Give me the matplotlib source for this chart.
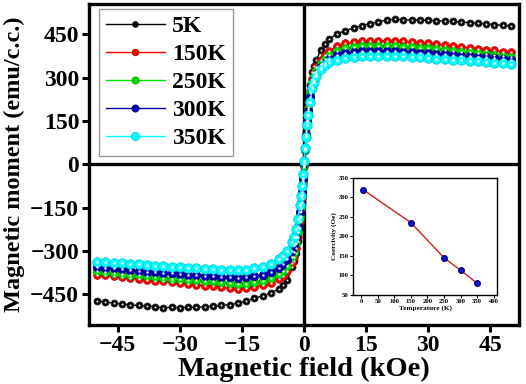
import matplotlib
matplotlib.use("Agg")
import matplotlib.pyplot as plt

# Field values (kOe)
H = [-50, -48, -46, -44, -42, -40, -38, -36, -34, -32, -30, -28, -26, -24, -22, -20, -18, -16, -14, -12, -10, -8, -6,
     -5, -4, -3, -2.5, -2, -1.5, -1, -0.75, -0.5, -0.25, 0, 0.25, 0.5, 0.75, 1, 1.5, 2, 2.5, 3, 4, 5,
     6, 8, 10, 12, 14, 16, 18, 20, 22, 24, 26, 28, 30, 32, 34, 36, 38, 40, 42, 44, 46, 48, 50]

# Magnetic moment (emu/c.c.) for each temperature
M_5K = [-471, -476, -480, -483, -486, -488, -490, -492, -496, -494, -495, -494, -494, -493, -490, -488, -485, -480, -472, -463, -455, -445, -430,
        -418, -400, -355, -335, -305, -265, -220, -180, -130, -70, -10, 55, 115, 170, 215, 275, 318, 340, 360, 395, 415,
        432, 452, 462, 472, 480, 487, 492, 500, 502, 500, 500, 499, 498, 497, 495, 494, 492, 490, 488, 486, 483, 481, 479]
M_150K = [-381, -384, -387, -390, -393, -396, -399, -402, -405, -408, -410, -413, -416, -419, -422, -425, -428, -430, -428, -424, -418, -410, -396,
          -385, -368, -340, -320, -290, -250, -195, -160, -115, -60, -5, 50, 105, 155, 200, 255, 295, 318, 335, 360, 378,
          392, 408, 418, 423, 426, 427, 428, 427, 426, 425, 423, 421, 419, 416, 413, 410, 407, 403, 400, 397, 394, 390, 387]
M_250K = [-369, -372, -375, -378, -381, -384, -387, -390, -393, -395, -397, -399, -401, -403, -405, -408, -411, -413, -412, -408, -402, -394, -380,
          -368, -350, -322, -302, -272, -234, -182, -150, -107, -55, -2, 50, 102, 150, 192, 245, 282, 305, 322, 347, 364,
          377, 392, 401, 406, 408, 409, 409, 409, 408, 407, 405, 403, 401, 399, 396, 393, 390, 387, 384, 381, 378, 375, 372]
M_300K = [-354, -357, -360, -363, -366, -369, -371, -373, -375, -377, -379, -381, -383, -385, -387, -389, -391, -392, -391, -387, -381, -372, -358,
          -346, -328, -300, -280, -252, -215, -165, -135, -95, -48, 3, 52, 100, 145, 185, 232, 268, 292, 312, 336, 352,
          364, 377, 385, 389, 391, 392, 392, 392, 391, 390, 388, 386, 384, 382, 380, 378, 376, 374, 372, 370, 367, 365, 362]
M_350K = [-336, -338, -340, -342, -344, -346, -348, -350, -352, -354, -356, -358, -360, -362, -363, -364, -365, -365, -364, -360, -355, -345, -328,
          -316, -298, -270, -250, -225, -190, -140, -110, -75, -35, 10, 55, 95, 135, 170, 215, 265, 285, 305, 330, 345,
          355, 362, 368, 372, 374, 375, 375, 375, 374, 373, 372, 370, 368, 366, 364, 362, 360, 358, 356, 354, 352, 349, 346]

labels = ["5K", "150K", "250K", "300K", "350K"]
colors = ["black", "red", "#00e000", "#0000b0", "cyan"]
edge_colors = ["#222222", "#c00000", "#00a000", "#000080", "#00c8d8"]
sizes = [5.0, 5.5, 6.0, 6.0, 6.8]
series = [M_5K, M_150K, M_250K, M_300K, M_350K]

# Inset data: coercivity vs temperature
T_inset = [5, 150, 250, 300, 350]
Hc_inset = [320, 235, 145, 113, 80]

plt.rcParams["font.family"] = "Liberation Serif"
plt.rcParams["font.weight"] = "bold"

fig = plt.figure(figsize=(5.26, 3.84), dpi=100)
ax = fig.add_axes([0.169, 0.154, 0.818, 0.836])

for M, lab, c, ec, s in zip(series, labels, colors, edge_colors, sizes):
    ax.plot(H, M, "-o", color=c, mec=ec, mfc=c, ms=s, lw=1.0, mew=0.6, label=lab)
for M, s in zip(series, sizes):
    ax.plot(H, M, "o", color="white", ms=s * 0.3, mew=0, alpha=0.9)

ax.axhline(0, color="black", lw=2.4, zorder=0.5)
ax.axvline(0, color="black", lw=2.4, zorder=0.5)

ax.set_xlim(-52, 52)
ax.set_ylim(-555, 555)
ax.set_xticks([-45, -30, -15, 0, 15, 30, 45])
ax.set_yticks([-450, -300, -150, 0, 150, 300, 450])
ax.tick_params(direction="out", length=5, width=2.2, labelsize=17, pad=2)
for sp in ax.spines.values():
    sp.set_linewidth(2.4)

ax.set_xlabel("Magnetic field (kOe)", fontsize=20.5, fontweight="bold", labelpad=1)
ax.set_ylabel("Magnetic moment (emu/c.c.)", fontsize=17.5, fontweight="bold", labelpad=4)

leg = ax.legend(loc="upper left", bbox_to_anchor=(0.023, 0.985), borderaxespad=0,
                handlelength=2.5, labelspacing=0.27, handletextpad=0.3,
                borderpad=0.3, fancybox=False, framealpha=1, markerscale=0.85,
                prop={"family": "Liberation Serif", "weight": "bold", "size": 17})
leg.get_frame().set_edgecolor("#999999")
leg.get_frame().set_linewidth(1.0)

# Inset
axi = fig.add_axes([0.671, 0.232, 0.274, 0.305])
axi.plot(T_inset, Hc_inset, "-o", color="#d02020", mfc="#1010d0", mec="#000080", ms=4, lw=1.0)
axi.set_xlim(-25, 410)
axi.set_ylim(50, 350)
axi.set_xticks(range(0, 401, 50))
axi.set_yticks(range(50, 351, 50))
axi.tick_params(labelsize=4.8, length=2, width=0.8, pad=1)
for sp in axi.spines.values():
    sp.set_linewidth(1.0)
axi.set_xlabel("Temperature (K)", fontsize=5.2, fontweight="bold", labelpad=1)
axi.set_ylabel("Coercivity (Oe)", fontsize=5.2, fontweight="bold", labelpad=1)

fig.savefig("out.png", dpi=100)
